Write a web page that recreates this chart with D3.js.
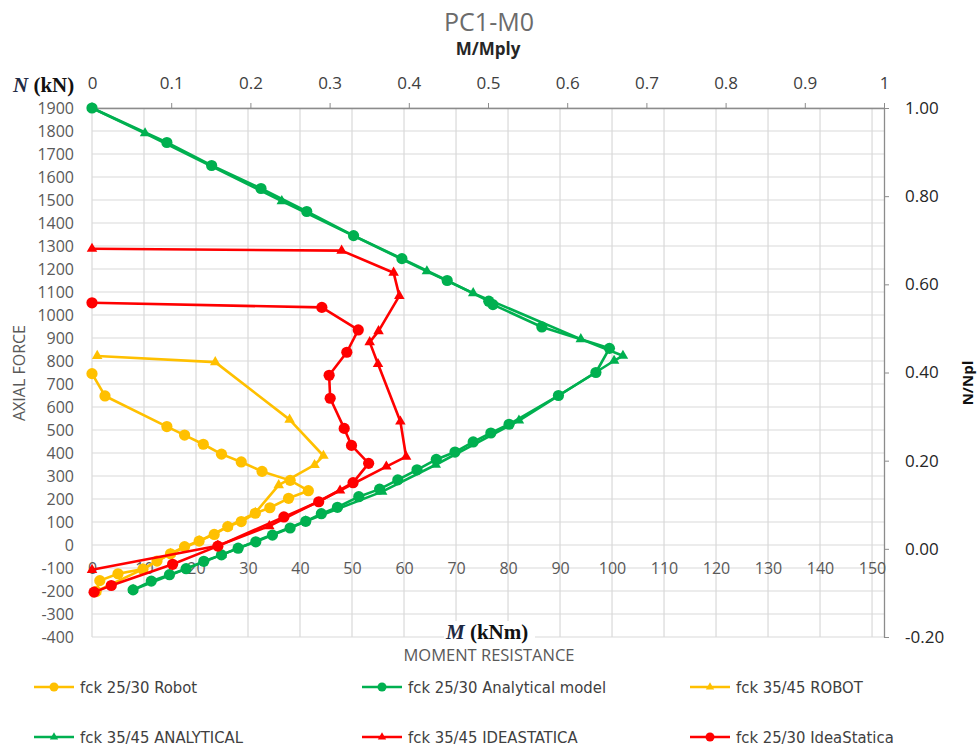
<!DOCTYPE html>
<html><head><meta charset="utf-8">
<script src="https://cdn.jsdelivr.net/npm/d3@7"></script>
<style>body{margin:0;background:#fff}</style>
</head><body><svg id="c" width="979" height="747"></svg>
<script>
// ---- data (M in kNm, N in kN) ----
const seriesNames = ["fck 25/30 Robot","fck 25/30 Analytical model","fck 35/45 ROBOT","fck 35/45 ANALYTICAL","fck 35/45 IDEASTATICA","fck 25/30 IdeaStatica"];
const seriesColors = ["#FFC000","#00B050","#FFC000","#00B050","#FF0000","#FF0000"];
const seriesMarkers = ["circle","circle","triangle","triangle","triangle","circle"];

const robot2530M = [0, 2.5, 14.4, 17.8, 21.4, 24.9, 28.7, 32.7, 38.1, 41.6, 37.8, 34.2, 31.4, 28.7, 26.1, 23.5, 20.6, 17.8, 15.1, 12.5, 9.8, 5.0, 1.5, 0.8];
const robot2530N = [745, 648, 515, 478, 438, 395, 361, 320, 281, 236, 203, 162, 138, 102, 80, 46, 17, -7, -38, -70, -105, -125, -155, -202];

const analytical2530M = [0, 14.4, 23, 32.5, 41.3, 50.3, 59.6, 68.3, 76.3, 77.1, 86.5, 99.5, 96.9, 89.7, 80.2, 76.7, 73.3, 69.8, 66.2, 62.5, 58.8, 55.3, 51.3, 47.2, 44.1, 41.1, 38.1, 34.7, 31.5, 28.1, 24.9, 21.5, 18.1, 14.9, 11.4, 7.9];
const analytical2530N = [1900, 1750, 1650, 1550, 1450, 1345, 1245, 1150, 1060, 1045, 948, 855, 750, 650, 525, 487, 448, 404, 372, 327, 283, 243, 210, 164, 136, 103, 74, 43, 14, -14, -43, -71, -103, -129, -157, -195];

const robot3545M = [1.0, 23.7, 38.0, 44.5, 42.8, 35.9, 31.4, 26.1, 20.6, 15.1, 9.8, 0.8];
const robot3545N = [822, 795, 545, 388, 348, 260, 140, 80, 17, -38, -105, -202];

const analytical3545M = [0, 10.2, 36.5, 64.4, 73.3, 94.0, 102.1, 100.4, 82.1, 66.1, 55.8, 41.1, 24.9, 7.9];
const analytical3545N = [1900, 1790, 1495, 1190, 1095, 895, 823, 801, 541, 349, 232, 103, -43, -195];

const idea3545M = [0, 48, 58, 59.1, 55.1, 53.4, 55.0, 59.3, 60.4, 56.6, 47.7, 34.1, 24.2, 0];
const idea3545N = [1288, 1280, 1184, 1083, 930, 882, 787, 537, 384, 341, 237, 82, -3, -108];

const idea2530M = [0, 44.2, 51.2, 49.0, 45.6, 45.8, 48.5, 49.9, 53.2, 50.2, 43.6, 36.9, 24.2, 15.5, 3.7, 0.4];
const idea2530N = [1053, 1033, 935, 838, 738, 638, 507, 433, 355, 271, 188, 122, -5, -84, -176, -205];

const seriesM = [robot2530M, analytical2530M, robot3545M, analytical3545M, idea3545M, idea2530M];
const seriesN = [robot2530N, analytical2530N, robot3545N, analytical3545N, idea3545N, idea2530N];

// ---- tick labels ----
const xTicks = [0,10,20,30,40,50,60,70,80,90,100,110,120,130,140,150];
const yTicks = [1900,1800,1700,1600,1500,1400,1300,1200,1100,1000,900,800,700,600,500,400,300,200,100,0,-100,-200,-300,-400];
const topTicks = [0,0.1,0.2,0.3,0.4,0.5,0.6,0.7,0.8,0.9,1];
const rightTicks = [1.0,0.8,0.6,0.4,0.2,0.0,-0.2];

const svg = d3.select("#c");
svg.append("rect").attr("width",979).attr("height",747).attr("fill","#fff");

const L=92, R=884, T=108, B=637;
const x = d3.scaleLinear().domain([0,152.3]).range([L,R]);
const y = d3.scaleLinear().domain([-400,1900]).range([B,T]);
const x2 = d3.scaleLinear().domain([0,1]).range([L,R]);
const y2 = d3.scaleLinear().domain([-0.2,1]).range([B,T]);

const font = "'Open Sans', 'DejaVu Sans', sans-serif";
const gridC = "#d9d9d9";
const axisC = "#8c8c8c";

// grid
const g = svg.append("g");
g.selectAll(".vg").data(xTicks).join("line")
  .attr("x1",d=>x(d)).attr("x2",d=>x(d)).attr("y1",T).attr("y2",B)
  .attr("stroke",gridC).attr("stroke-width",1.2);
g.selectAll(".hg").data(yTicks).join("line")
  .attr("x1",L).attr("x2",R).attr("y1",d=>y(d)).attr("y2",d=>y(d))
  .attr("stroke",gridC).attr("stroke-width",1.2);

// top axis (M/Mply)
const topAx = d3.axisTop(x2).tickValues(topTicks).tickSizeInner(5).tickSizeOuter(0).tickPadding(14).tickFormat(d=>String(d));
const tg = svg.append("g").attr("transform",`translate(0,${T})`).call(topAx);
tg.select(".domain").attr("stroke",axisC).attr("stroke-width",1.3);
tg.selectAll(".tick line").attr("stroke",axisC);
tg.selectAll("text").attr("font-family",font).attr("font-size",17).attr("fill","#404040");

// right axis (N/Npl)
const rightAx = d3.axisRight(y2).tickValues(rightTicks).tickSizeInner(5).tickSizeOuter(0).tickPadding(16).tickFormat(d=>d.toFixed(2));
const rg = svg.append("g").attr("transform",`translate(${R},0)`).call(rightAx);
rg.select(".domain").attr("stroke",axisC).attr("stroke-width",1.3);
rg.selectAll(".tick line").attr("stroke",axisC);
rg.selectAll("text").attr("font-family",font).attr("font-size",17).attr("fill","#262626");

// left axis labels
const leftAx = d3.axisLeft(y).tickValues(yTicks).tickSize(0).tickPadding(18).tickFormat(d=>String(d));
const lg = svg.append("g").attr("transform",`translate(${L},0)`).call(leftAx);
lg.select(".domain").remove();
lg.selectAll("text").attr("font-family",font).attr("font-size",16).attr("fill","#595959");

// bottom labels (placed near zero line)
const botAx = d3.axisBottom(x).tickValues(xTicks).tickSize(0).tickPadding(18).tickFormat(d=>String(d));
const bg = svg.append("g").attr("transform",`translate(0,${y(0)})`).call(botAx);
bg.select(".domain").remove();
bg.selectAll("text").attr("font-family",font).attr("font-size",16).attr("fill","#595959");

// M (kNm) label with white box
svg.append("rect").attr("x",444).attr("y",621).attr("width",91).attr("height",24).attr("fill","#fff");
const mt = svg.append("text").attr("x",446).attr("y",639)
  .attr("font-family","'Liberation Serif','Times New Roman',serif").attr("font-size",21).attr("font-weight","bold").attr("fill","#111");
mt.append("tspan").attr("font-style","italic").attr("fill","#1f2a44").text("M");
mt.append("tspan").text(" (kNm)");

const nt = svg.append("text").attr("x",13).attr("y",92)
  .attr("font-family","'Liberation Serif','Times New Roman',serif").attr("font-size",21).attr("font-weight","bold").attr("fill","#111");
nt.append("tspan").attr("font-style","italic").attr("fill","#1f2a44").text("N");
nt.append("tspan").text(" (kN)");

// titles
svg.append("text").attr("x",489).attr("y",31).attr("text-anchor","middle")
  .attr("font-family",font).attr("font-size",25).attr("fill","#6b6b6b").text("PC1-M0");
svg.append("text").attr("x",488).attr("y",55).attr("text-anchor","middle")
  .attr("font-family",font).attr("font-size",17).attr("font-weight","bold").attr("fill","#262626").text("M/Mply");
svg.append("text").attr("x",489).attr("y",661).attr("text-anchor","middle")
  .attr("font-family",font).attr("font-size",16.5).attr("fill","#595959").text("MOMENT RESISTANCE");
svg.append("text").attr("transform","translate(25,373) rotate(-90)").attr("text-anchor","middle")
  .attr("font-family",font).attr("font-size",16).attr("fill","#595959").text("AXIAL FORCE");
svg.append("text").attr("transform","translate(973,383) rotate(-90)").attr("text-anchor","middle")
  .attr("font-family",font).attr("font-size",15).attr("font-weight","bold").attr("fill","#111").text("N/Npl");

// series
const tri = d3.symbol().type(d3.symbolTriangle).size(48);
const line = d3.line().x(d=>x(d[0])).y(d=>y(d[1]));
seriesNames.forEach((name,i)=>{
  const pts = seriesM[i].map((m,k)=>[m, seriesN[i][k]]);
  const sg = svg.append("g");
  sg.append("path").attr("d",line(pts)).attr("fill","none").attr("stroke",seriesColors[i])
    .attr("stroke-width",2.6).attr("stroke-linejoin","round");
  if(seriesMarkers[i]==="circle"){
    sg.selectAll("circle").data(pts).join("circle").attr("cx",d=>x(d[0])).attr("cy",d=>y(d[1]))
      .attr("r",5.6).attr("fill",seriesColors[i]);
  } else {
    sg.selectAll("path.m").data(pts).join("path").attr("class","m").attr("d",tri)
      .attr("transform",d=>`translate(${x(d[0])},${y(d[1])})`).attr("fill",seriesColors[i]);
  }
});

// legend
const legX = [34,362,690], legY = [687,737];
seriesNames.forEach((name,i)=>{
  const lx = legX[i%3], ly = legY[Math.floor(i/3)];
  const lgI = svg.append("g");
  lgI.append("line").attr("x1",lx).attr("x2",lx+40).attr("y1",ly).attr("y2",ly)
    .attr("stroke",seriesColors[i]).attr("stroke-width",2.6);
  if(seriesMarkers[i]==="circle"){
    lgI.append("circle").attr("cx",lx+20).attr("cy",ly).attr("r",4.5).attr("fill",seriesColors[i]);
  } else {
    lgI.append("path").attr("d",d3.symbol().type(d3.symbolTriangle).size(30))
      .attr("transform",`translate(${lx+20},${ly})`).attr("fill",seriesColors[i]);
  }
  lgI.append("text").attr("x",lx+46).attr("y",ly).attr("dy","0.35em")
    .attr("font-family","'Liberation Sans Narrow','Arial Narrow','DejaVu Sans Condensed',sans-serif")
    .attr("font-size",16.5).attr("fill","#404040").text(name);
});
</script></body></html>
